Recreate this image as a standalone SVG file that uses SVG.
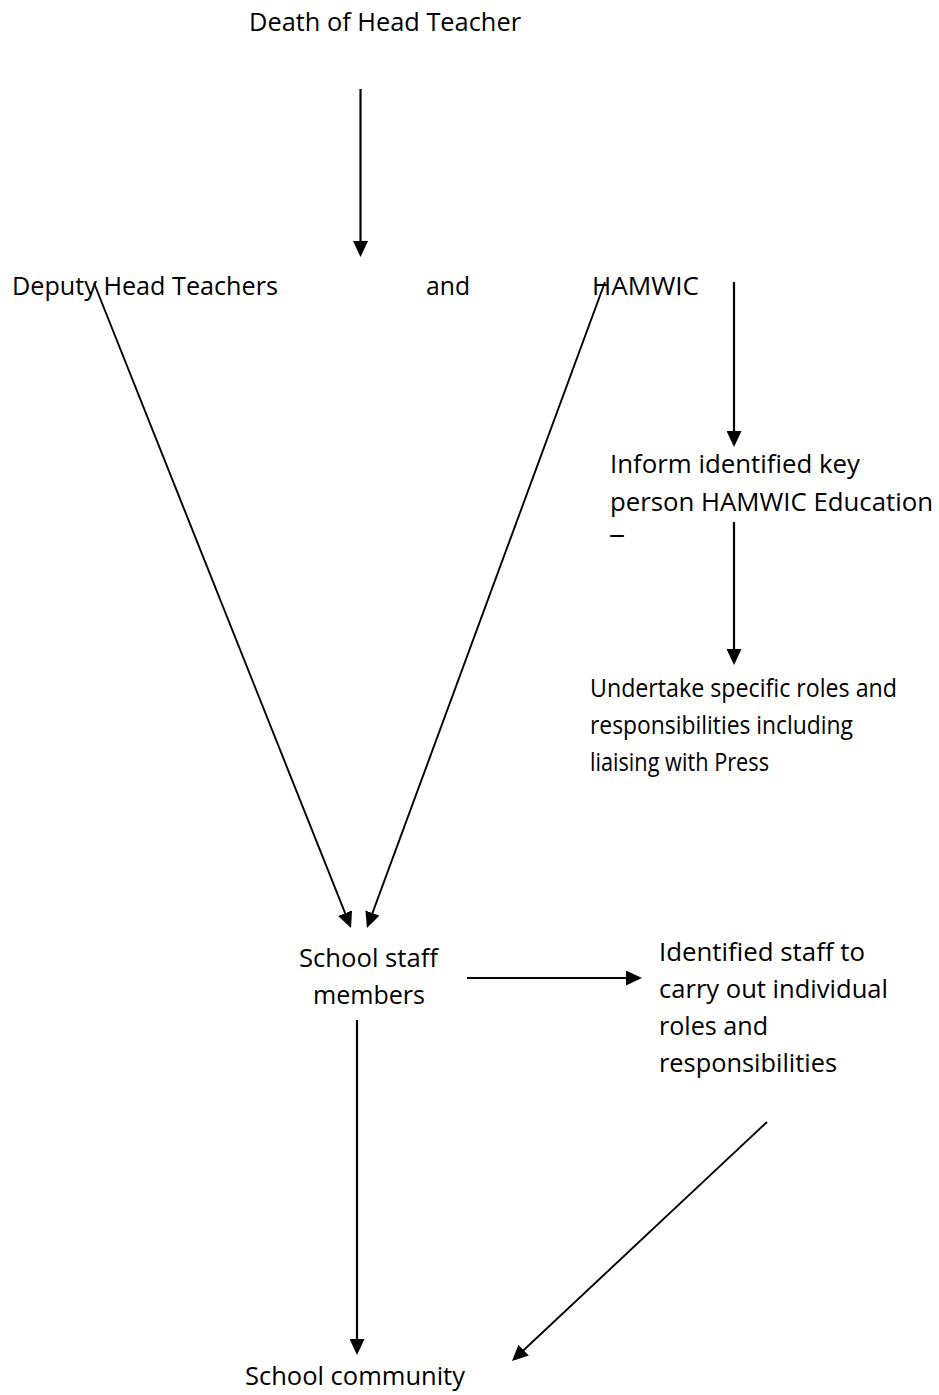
<svg xmlns="http://www.w3.org/2000/svg" width="939" height="1395" viewBox="0 0 939 1395">
<style>
text{font-family:"Open Sans","Noto Sans","Liberation Sans",sans-serif;font-size:25.5px;fill:#000}
.c line{stroke:#000;stroke-width:2.2;fill:none;marker-end:url(#ah)}
.c line.d{stroke-width:1.9}
</style>
<defs>
<marker id="ah" markerUnits="userSpaceOnUse" viewBox="0 0 16 15" refX="13" refY="7.5" markerWidth="16" markerHeight="15" orient="auto">
<path d="M0,0 L16,7.5 L0,15 Z" fill="#000"/>
</marker>
<clipPath id="clipTeam"><rect x="580" y="520" width="359" height="17"/></clipPath>
</defs>
<rect width="939" height="1395" fill="#fff"/>
<g id="death"><text x="249" y="31" textLength="272" lengthAdjust="spacingAndGlyphs">Death of Head Teacher</text></g>
<g id="deputy"><text x="12" y="295" textLength="266" lengthAdjust="spacingAndGlyphs">Deputy Head Teachers</text></g>
<g id="and"><text x="426" y="295" textLength="44" lengthAdjust="spacingAndGlyphs">and</text></g>
<g id="hamwic"><text x="592" y="295" textLength="107" lengthAdjust="spacingAndGlyphs">HAMWIC</text></g>
<g id="inform">
<text x="610" y="473" textLength="250" lengthAdjust="spacingAndGlyphs">Inform identified key</text>
<text x="610" y="511" textLength="323" lengthAdjust="spacingAndGlyphs">person HAMWIC Education</text>
<text x="610" y="552.5" clip-path="url(#clipTeam)">Team</text>
</g>
<g id="undertake">
<text x="590" y="697" textLength="307" lengthAdjust="spacingAndGlyphs">Undertake specific roles and</text>
<text x="590" y="734" textLength="263" lengthAdjust="spacingAndGlyphs">responsibilities including</text>
<text x="590" y="771" textLength="179" lengthAdjust="spacingAndGlyphs">liaising with Press</text>
</g>
<g id="staff">
<text x="299" y="967" textLength="139" lengthAdjust="spacingAndGlyphs">School staff</text>
<text x="313" y="1004" textLength="112" lengthAdjust="spacingAndGlyphs">members</text>
</g>
<g id="identified">
<text x="659" y="961" textLength="206" lengthAdjust="spacingAndGlyphs">Identified staff to</text>
<text x="659" y="998" textLength="229" lengthAdjust="spacingAndGlyphs">carry out individual</text>
<text x="659" y="1035" textLength="109" lengthAdjust="spacingAndGlyphs">roles and</text>
<text x="659" y="1072" textLength="178" lengthAdjust="spacingAndGlyphs">responsibilities</text>
</g>
<g id="community"><text x="245" y="1385" textLength="220" lengthAdjust="spacingAndGlyphs">School community</text></g>
<g id="connectors" class="c">
<line x1="360.5" y1="89" x2="360.5" y2="254"/>
<line x1="734" y1="282" x2="734" y2="444"/>
<line x1="734" y1="522" x2="734" y2="662"/>
<line class="d" x1="94" y1="283" x2="349.9" y2="925.2"/>
<line class="d" x1="605" y1="282" x2="368" y2="925.2"/>
<line x1="467" y1="978" x2="639" y2="978"/>
<line x1="357" y1="1020" x2="357" y2="1352"/>
<line class="d" x1="767" y1="1122" x2="514.2" y2="1359"/>
</g>
</svg>
